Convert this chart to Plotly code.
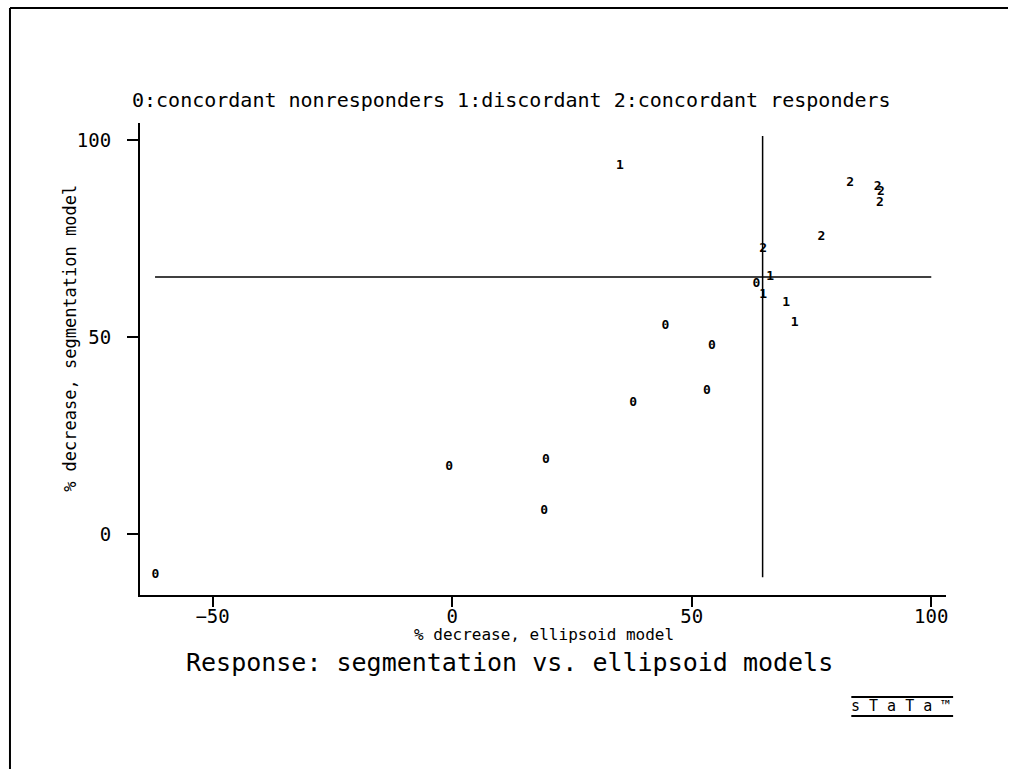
import plotly.graph_objects as go

W, H = 1010, 769

# Data
cat0_x = [-61.9, -0.6, 19.6, 19.2, 37.8, 44.5, 54.2, 53.2, 63.5]
cat0_y = [-10.4, 17.0, 18.8, 5.8, 33.4, 52.9, 47.7, 36.4, 63.4]
cat1_x = [35.0, 66.4, 64.9, 69.7, 71.5]
cat1_y = [93.4, 65.2, 60.8, 58.8, 53.5]
cat2_x = [83.1, 88.8, 89.5, 89.3, 77.1, 64.9]
cat2_y = [89.2, 88.1, 86.9, 84.1, 75.5, 72.4]
categories = ["0", "1", "2"]

ref_h_y = 65.2
ref_h_x = [-62, 100]
ref_v_x = 64.8
ref_v_y = [-11, 101]

x_ticks = [-50, 0, 50, 100]
y_ticks = [0, 50, 100]

MONO = "DejaVu Sans Mono"

fig = go.Figure()

# reference lines
fig.add_trace(go.Scatter(x=ref_h_x, y=[ref_h_y, ref_h_y], mode="lines",
                         line=dict(color="black", width=1.5), hoverinfo="skip", showlegend=False))
fig.add_trace(go.Scatter(x=[ref_v_x, ref_v_x], y=ref_v_y, mode="lines",
                         line=dict(color="black", width=1.5), hoverinfo="skip", showlegend=False))

for lab, xs, ys in zip(categories, [cat0_x, cat1_x, cat2_x], [cat0_y, cat1_y, cat2_y]):
    fig.add_trace(go.Scatter(x=xs, y=ys, mode="text", text=[lab] * len(xs),
                             textposition="middle center",
                             textfont=dict(family=MONO, size=13, color="black", weight="bold"),
                             showlegend=False))

xdom = [140 / W, 948 / W]
ydom = [1 - 595 / H, 1 - 123 / H]

fig.update_layout(
    width=W, height=H,
    margin=dict(l=0, r=0, t=0, b=0),
    paper_bgcolor="white", plot_bgcolor="white",
    xaxis=dict(domain=xdom, range=[-65.2, 103.1], tickvals=x_ticks,
               showgrid=False, zeroline=False, showline=True, linecolor="black", linewidth=1.5,
               ticks="outside", ticklen=10, tickwidth=1.5, tickcolor="black",
               ticklabelstandoff=-7,
               tickfont=dict(family=MONO, size=19, color="black")),
    yaxis=dict(domain=ydom, range=[-15.5, 104.3], tickvals=y_ticks,
               showgrid=False, zeroline=False, showline=True, linecolor="black", linewidth=1.5,
               ticks="outside", ticklen=11, tickwidth=1.5, tickcolor="black",
               ticklabelstandoff=12,
               tickfont=dict(family=MONO, size=19, color="black")),
)

annotations = [
    dict(text="0:concordant nonresponders 1:discordant 2:concordant responders",
         x=513 / W, y=1 - 100 / H, font=dict(family=MONO, size=20, color="black")),
    dict(text="% decrease, ellipsoid model",
         x=545 / W, y=1 - 634 / H, font=dict(family=MONO, size=16, color="black")),
    dict(text="% decrease, segmentation model", textangle=-90,
         x=70 / W, y=1 - 338 / H, font=dict(family=MONO, size=17, color="black")),
    dict(text="Response: segmentation vs. ellipsoid models",
         x=511 / W, y=1 - 662 / H, font=dict(family=MONO, size=25, color="black")),
    dict(text="s T a T a ™",
         x=902 / W, y=1 - 706 / H, font=dict(family=MONO, size=15, color="black")),
]
for a in annotations:
    a.update(xref="paper", yref="paper", showarrow=False, xanchor="center", yanchor="middle")
fig.update_layout(annotations=annotations)

shapes = [
    # outer frame (left and top edges)
    dict(type="line", x0=10 / W, x1=10 / W, y0=1 - 8 / H, y1=0),
    dict(type="line", x0=10 / W, x1=1, y0=1 - 8 / H, y1=1 - 8 / H),
    # logo rules
    dict(type="line", x0=853 / W, x1=955 / W, y0=1 - 697 / H, y1=1 - 697 / H),
    dict(type="line", x0=853 / W, x1=955 / W, y0=1 - 716 / H, y1=1 - 716 / H),
]
for s in shapes:
    s.update(xref="paper", yref="paper", line=dict(color="black", width=2))
fig.update_layout(shapes=shapes)

fig.write_html("out.html", config={"displayModeBar": False},
               post_script="document.body.style.margin='0';document.body.style.padding='0';")
